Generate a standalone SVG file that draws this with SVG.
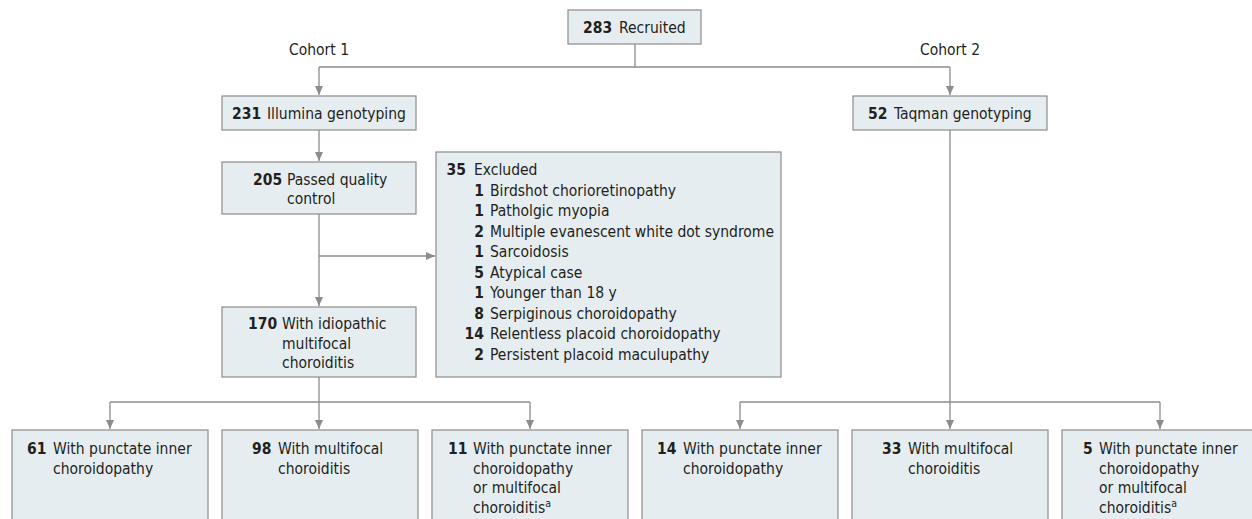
<svg xmlns="http://www.w3.org/2000/svg" width="1252" height="519" viewBox="0 0 1252 519">
<defs>
<style>
.box{fill:#e6edf1;stroke:#8c8c8c;stroke-width:1.2}
.ln{fill:none;stroke:#8c8c8c;stroke-width:1.3}
text{font-family:"Liberation Sans Narrow","DejaVu Sans Condensed","Liberation Sans",sans-serif;font-size:15.5px;fill:#231f20}
.b{font-weight:bold}
.e{text-anchor:end}
.sup{font-size:10.5px}
</style>
<marker id="ah" markerWidth="10" markerHeight="10" refX="9" refY="5" orient="auto" markerUnits="userSpaceOnUse">
<path d="M0,1 L9,5 L0,9 Z" fill="#8c8c8c"/>
</marker>
</defs>
<rect width="1252" height="519" fill="#ffffff"/>
<g id="connectors">
<path class="ln" d="M635,44 V67"/>
<path class="ln" d="M319,67 H950"/>
<path class="ln" d="M319,67 V95" marker-end="url(#ah)"/>
<path class="ln" d="M950,67 V95" marker-end="url(#ah)"/>
<path class="ln" d="M319,130 V161" marker-end="url(#ah)"/>
<path class="ln" d="M319,214 V306" marker-end="url(#ah)"/>
<path class="ln" d="M319,256 H435" marker-end="url(#ah)"/>
<path class="ln" d="M319,377 V402"/>
<path class="ln" d="M110,402 H530"/>
<path class="ln" d="M110,402 V429" marker-end="url(#ah)"/>
<path class="ln" d="M319,402 V429" marker-end="url(#ah)"/>
<path class="ln" d="M530,402 V429" marker-end="url(#ah)"/>
<path class="ln" d="M950,130 V429" marker-end="url(#ah)"/>
<path class="ln" d="M740,402 H1160"/>
<path class="ln" d="M740,402 V429" marker-end="url(#ah)"/>
<path class="ln" d="M1160,402 V429" marker-end="url(#ah)"/>
</g>
<g id="labels">
<text x="319" y="55" text-anchor="middle">Cohort 1</text>
<text x="950" y="55" text-anchor="middle">Cohort 2</text>
</g>
<g id="recruited">
<rect class="box" x="568" y="10" width="133" height="34"/>
<text x="583" y="33"><tspan class="b">283</tspan><tspan x="619">Recruited</tspan></text>
</g>
<g id="illumina">
<rect class="box" x="222" y="96" width="194" height="34"/>
<text x="232" y="119"><tspan class="b">231</tspan><tspan x="267">Illumina genotyping</tspan></text>
</g>
<g id="taqman">
<rect class="box" x="853" y="96" width="194" height="34"/>
<text x="868" y="119"><tspan class="b">52</tspan><tspan x="894">Taqman genotyping</tspan></text>
</g>
<g id="passed">
<rect class="box" x="222" y="162" width="194" height="52"/>
<text x="253" y="185"><tspan class="b">205</tspan><tspan x="287">Passed quality</tspan></text>
<text x="287" y="204">control</text>
</g>
<g id="excluded">
<rect class="box" x="436" y="152" width="345" height="225"/>
<text class="b e" x="466" y="175">35</text><text x="474" y="175">Excluded</text>
<text class="b e" x="484" y="195.5">1</text><text x="490" y="195.5">Birdshot chorioretinopathy</text>
<text class="b e" x="484" y="216">1</text><text x="490" y="216">Patholgic myopia</text>
<text class="b e" x="484" y="236.5">2</text><text x="490" y="236.5">Multiple evanescent white dot syndrome</text>
<text class="b e" x="484" y="257">1</text><text x="490" y="257">Sarcoidosis</text>
<text class="b e" x="484" y="277.5">5</text><text x="490" y="277.5">Atypical case</text>
<text class="b e" x="484" y="298">1</text><text x="490" y="298">Younger than 18 y</text>
<text class="b e" x="484" y="318.5">8</text><text x="490" y="318.5">Serpiginous choroidopathy</text>
<text class="b e" x="484" y="339">14</text><text x="490" y="339">Relentless placoid choroidopathy</text>
<text class="b e" x="484" y="359.5">2</text><text x="490" y="359.5">Persistent placoid maculupathy</text>
</g>
<g id="imc">
<rect class="box" x="222" y="307" width="194" height="70"/>
<text x="248" y="329"><tspan class="b">170</tspan><tspan x="282">With idiopathic</tspan></text>
<text x="282" y="348.5">multifocal</text>
<text x="282" y="368">choroiditis</text>
</g>
<g id="c1-pic">
<rect class="box" x="12" y="430" width="196" height="100"/>
<text x="27" y="454"><tspan class="b">61</tspan><tspan x="53">With punctate inner</tspan></text>
<text x="53" y="473.5">choroidopathy</text>
</g>
<g id="c1-mfc">
<rect class="box" x="222" y="430" width="196" height="100"/>
<text x="252" y="454"><tspan class="b">98</tspan><tspan x="278">With multifocal</tspan></text>
<text x="278" y="473.5">choroiditis</text>
</g>
<g id="c1-either">
<rect class="box" x="432" y="430" width="196" height="100"/>
<text x="448" y="454"><tspan class="b">11</tspan><tspan x="473">With punctate inner</tspan></text>
<text x="473" y="473.5">choroidopathy</text>
<text x="473" y="493">or multifocal</text>
<text x="473" y="512.5">choroiditis<tspan class="sup" dy="-6">a</tspan></text>
</g>
<g id="c2-pic">
<rect class="box" x="642" y="430" width="196" height="100"/>
<text x="657" y="454"><tspan class="b">14</tspan><tspan x="683">With punctate inner</tspan></text>
<text x="683" y="473.5">choroidopathy</text>
</g>
<g id="c2-mfc">
<rect class="box" x="852" y="430" width="196" height="100"/>
<text x="882" y="454"><tspan class="b">33</tspan><tspan x="908">With multifocal</tspan></text>
<text x="908" y="473.5">choroiditis</text>
</g>
<g id="c2-either">
<rect class="box" x="1062" y="430" width="196" height="100"/>
<text x="1083" y="454"><tspan class="b">5</tspan><tspan x="1099">With punctate inner</tspan></text>
<text x="1099" y="473.5">choroidopathy</text>
<text x="1099" y="493">or multifocal</text>
<text x="1099" y="512.5">choroiditis<tspan class="sup" dy="-6">a</tspan></text>
</g>
</svg>
